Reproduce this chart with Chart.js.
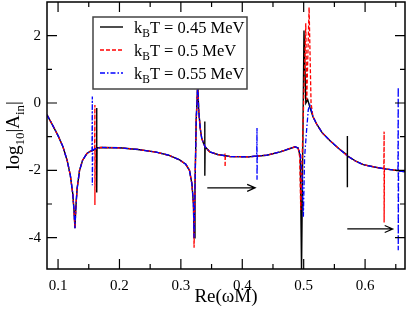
<!DOCTYPE html>
<html>
<head>
<meta charset="utf-8">
<script src="https://cdn.jsdelivr.net/npm/chart.js@4.4.0/dist/chart.umd.min.js"></script>
<style>
    html, body { margin: 0; padding: 0; background: #fff; }
</style>
</head>
<body>
<canvas id="chart" width="409" height="313"></canvas>
<script>
// Kurven [Re(wM), log10|A_in|] fuer die drei Temperaturen
const black = [
    [0.082, -0.35], [0.09, -0.62], [0.1, -0.97], [0.108, -1.3], [0.115, -1.72], [0.12, -2.15],
    [0.124, -2.7], [0.126, -3.2], [0.1275, -3.72], [0.129, -3.1], [0.131, -2.55], [0.135, -2.0],
    [0.14, -1.7], [0.147, -1.5], [0.152, -1.44], [0.158, -1.4], [0.1625, -1.35], [0.163, -0.15],
    [0.163, -2.66], [0.1635, -1.33], [0.17, -1.32], [0.2, -1.33], [0.23, -1.38], [0.26, -1.46],
    [0.28, -1.55], [0.298, -1.69], [0.308, -1.82], [0.314, -2.0], [0.318, -2.4], [0.3205, -3.0],
    [0.3215, -4.0], [0.323, -2.5], [0.325, -0.5], [0.3275, 0.6], [0.329, -0.2], [0.3315, -0.75],
    [0.334, -1.05], [0.337, -1.2], [0.339, -1.28], [0.339, -0.55], [0.339, -2.16], [0.3395, -1.3],
    [0.347, -1.45], [0.36, -1.53], [0.38, -1.59], [0.41, -1.6], [0.44, -1.55], [0.462, -1.45],
    [0.478, -1.35], [0.486, -1.3], [0.491, -1.34], [0.4945, -1.6], [0.4965, -5.0], [0.5005, 2.15],
    [0.5035, 0.0], [0.5065, 0.1], [0.5105, -0.15], [0.515, -0.4], [0.521, -0.62], [0.53, -0.88],
    [0.543, -1.12], [0.557, -1.35], [0.571, -1.55], [0.571, -0.98], [0.571, -2.5], [0.5715, -1.57],
    [0.585, -1.73], [0.597, -1.83], [0.615, -1.9], [0.63, -1.95], [0.65, -2.0], [0.665, -2.04]
];

const red = [
    [0.082, -0.35], [0.09, -0.62], [0.1, -0.97], [0.108, -1.3], [0.115, -1.72], [0.12, -2.15],
    [0.124, -2.7], [0.126, -3.2], [0.1275, -3.72], [0.129, -3.1], [0.131, -2.55], [0.135, -2.0],
    [0.14, -1.7], [0.147, -1.5], [0.152, -1.44], [0.1595, -1.39], [0.16, -0.06], [0.16, -3.03],
    [0.1605, -1.37], [0.165, -1.33], [0.17, -1.32], [0.2, -1.33], [0.23, -1.38], [0.26, -1.46],
    [0.28, -1.55], [0.298, -1.69], [0.308, -1.82], [0.314, -2.0], [0.318, -2.4], [0.3205, -3.0],
    [0.3215, -4.3], [0.323, -2.5], [0.325, -0.5], [0.3275, 0.6], [0.329, -0.2], [0.3315, -0.75],
    [0.334, -1.05], [0.337, -1.2], [0.3395, -1.3], [0.347, -1.45], [0.36, -1.53], [0.3715, -1.56],
    [0.372, -1.5], [0.372, -1.9], [0.3725, -1.57], [0.38, -1.59], [0.41, -1.6], [0.44, -1.55],
    [0.462, -1.45], [0.478, -1.35], [0.486, -1.3], [0.491, -1.34], [0.4935, -1.6], [0.4952, -3.18],
    [0.5034, 2.37], [0.505, 0.1], [0.5088, 2.84], [0.512, 0.0], [0.515, -0.4], [0.521, -0.62],
    [0.53, -0.88], [0.543, -1.12], [0.557, -1.35], [0.571, -1.57], [0.585, -1.73], [0.597, -1.83],
    [0.615, -1.9], [0.6305, -1.95], [0.631, -0.85], [0.631, -3.55], [0.6315, -1.95], [0.65, -2.0],
    [0.665, -2.04]
];

const blue = [
    [0.082, -0.35], [0.09, -0.62], [0.1, -0.97], [0.108, -1.3], [0.115, -1.72], [0.12, -2.15],
    [0.124, -2.7], [0.126, -3.2], [0.1275, -3.72], [0.129, -3.1], [0.131, -2.55], [0.135, -2.0],
    [0.14, -1.7], [0.147, -1.5], [0.152, -1.44], [0.1553, -1.41], [0.1558, 0.19], [0.1558, -2.44],
    [0.1565, -1.39], [0.163, -1.34], [0.17, -1.32], [0.2, -1.33], [0.23, -1.38], [0.26, -1.46],
    [0.28, -1.55], [0.298, -1.69], [0.308, -1.82], [0.314, -2.0], [0.318, -2.4], [0.3205, -3.0],
    [0.3215, -4.0], [0.323, -2.5], [0.325, -0.5], [0.3275, 0.6], [0.329, -0.2], [0.3315, -0.75],
    [0.334, -1.05], [0.337, -1.2], [0.3395, -1.3], [0.347, -1.45], [0.36, -1.53], [0.38, -1.59],
    [0.41, -1.6], [0.4235, -1.57], [0.424, -0.74], [0.424, -2.28], [0.4245, -1.57], [0.44, -1.55],
    [0.462, -1.45], [0.478, -1.35], [0.486, -1.3], [0.491, -1.34], [0.4945, -1.5], [0.4975, -2.2],
    [0.4995, -3.38], [0.5015, -1.6], [0.505, -0.75], [0.5075, -0.2], [0.51, -0.06], [0.513, -0.25],
    [0.515, -0.4], [0.521, -0.62], [0.53, -0.88], [0.543, -1.12], [0.557, -1.35], [0.571, -1.57],
    [0.585, -1.73], [0.597, -1.83], [0.615, -1.9], [0.63, -1.95], [0.65, -2.0], [0.6535, -2.01],
    [0.654, 0.47], [0.654, -4.37], [0.6545, -2.02], [0.665, -2.04]
];

const legendLabels = ['0.45', '0.5', '0.55'];

// Achsen
const xMajorTicks = [0.1, 0.2, 0.3, 0.4, 0.5, 0.6];
const xMinorTicks = [0.15, 0.25, 0.35, 0.45, 0.55, 0.65];
const yMajorTicks = [-4, -2, 0, 2];
const yMinorTicks = [-3, -1, 1];

// Pfeile: [x von, x bis, y]
const arrows = [
    [0.343, 0.421, -2.52],
    [0.571, 0.645, -3.74]
];

const serif = '"Liberation Serif", "DejaVu Serif", serif';

function toPoints(pairs) {
    return pairs.map(p => ({ x: p[0], y: p[1] }));
}

// Text mit tiefgestellten Teilen zeichnen
function drawParts(ctx, parts, x, y) {
    let cx = x;
    parts.forEach(p => {
        ctx.font = p.size + 'px ' + serif;
        ctx.fillText(p.text, cx, y + (p.dy || 0));
        cx += ctx.measureText(p.text).width;
    });
    return cx;
}

function partsWidth(ctx, parts) {
    let w = 0;
    parts.forEach(p => {
        ctx.font = p.size + 'px ' + serif;
        w += ctx.measureText(p.text).width;
    });
    return w;
}

const decorations = {
    id: 'decorations',
    afterDraw(chart) {
        const ctx = chart.ctx;
        const a = chart.chartArea;
        const xs = chart.scales.x;
        const ys = chart.scales.y;
        ctx.save();

        // Ticks nach innen
        ctx.strokeStyle = '#000';
        ctx.lineWidth = 1.2;
        ctx.beginPath();
        const xTick = (v, len) => {
            const px = xs.getPixelForValue(v);
            ctx.moveTo(px, a.bottom); ctx.lineTo(px, a.bottom - len);
            ctx.moveTo(px, a.top); ctx.lineTo(px, a.top + len);
        };
        const yTick = (v, len) => {
            const py = ys.getPixelForValue(v);
            ctx.moveTo(a.left, py); ctx.lineTo(a.left + len, py);
            ctx.moveTo(a.right, py); ctx.lineTo(a.right - len, py);
        };
        xMajorTicks.forEach(v => xTick(v, 10));
        xMinorTicks.forEach(v => xTick(v, 5));
        yMajorTicks.forEach(v => yTick(v, 10));
        yMinorTicks.forEach(v => yTick(v, 5));
        ctx.stroke();

        // Rahmen
        ctx.lineWidth = 1.5;
        ctx.strokeRect(a.left, a.top, a.right - a.left, a.bottom - a.top);

        // Pfeile
        ctx.lineWidth = 1.2;
        arrows.forEach(ar => {
            const x1 = xs.getPixelForValue(ar[0]);
            const x2 = xs.getPixelForValue(ar[1]);
            const py = ys.getPixelForValue(ar[2]);
            ctx.beginPath();
            ctx.moveTo(x1, py); ctx.lineTo(x2, py);
            ctx.moveTo(x2 - 8, py - 3.5); ctx.lineTo(x2, py); ctx.lineTo(x2 - 8, py + 3.5);
            ctx.stroke();
        });

        // Legende
        const lx = 93, ly = 17, lw = 154, lh = 72;
        ctx.fillStyle = '#fff';
        ctx.fillRect(lx, ly, lw, lh);
        ctx.strokeStyle = '#444';
        ctx.lineWidth = 1.5;
        ctx.strokeRect(lx, ly, lw, lh);
        const ds = chart.data.datasets;
        legendLabels.forEach((lab, i) => {
            const ry = 27 + i * 23;
            ctx.strokeStyle = ds[i].borderColor;
            ctx.lineWidth = ds[i].borderWidth;
            ctx.setLineDash(ds[i].borderDash || []);
            ctx.beginPath();
            ctx.moveTo(100, ry); ctx.lineTo(123, ry);
            ctx.stroke();
            ctx.setLineDash([]);
            ctx.fillStyle = '#000';
            ctx.textBaseline = 'alphabetic';
            ctx.textAlign = 'left';
            drawParts(ctx, [
                { text: 'k', size: 16.5 },
                { text: 'B', size: 11.5, dy: 4 },
                { text: 'T = ' + lab + ' MeV', size: 16.5 }
            ], 134, ry + 6);
        });

        // Achsentitel
        ctx.fillStyle = '#000';
        ctx.textAlign = 'left';
        ctx.textBaseline = 'alphabetic';
        const xt = [{ text: 'Re(\u03c9M)', size: 19 }];
        const cxp = (a.left + a.right) / 2;
        drawParts(ctx, xt, cxp - partsWidth(ctx, xt) / 2, 302);

        const yt = [
            { text: 'log', size: 19 },
            { text: '10', size: 13, dy: 5 },
            { text: '|A', size: 19 },
            { text: 'in', size: 13, dy: 5 },
            { text: '|', size: 19 }
        ];
        const cyp = (a.top + a.bottom) / 2;
        ctx.translate(19, cyp);
        ctx.rotate(-Math.PI / 2);
        drawParts(ctx, yt, -partsWidth(ctx, yt) / 2, 0);

        ctx.restore();
    }
};

const ctx = document.getElementById('chart').getContext('2d');

const chart = new Chart(ctx, {
    type: 'scatter',
    data: {
        datasets: [{
            label: 'kBT = 0.45 MeV',
            data: toPoints(black),
            borderColor: '#000000',
            borderWidth: 1.4,
            order: 3
        }, {
            label: 'kBT = 0.5 MeV',
            data: toPoints(red),
            borderColor: '#ff0000',
            borderWidth: 1.3,
            borderDash: [4, 2],
            order: 2
        }, {
            label: 'kBT = 0.55 MeV',
            data: toPoints(blue),
            borderColor: '#0000ff',
            borderWidth: 1.3,
            borderDash: [5, 2, 1.5, 2],
            order: 1
        }]
    },
    options: {
        responsive: false,
        animation: false,
        devicePixelRatio: 1,
        showLine: true,
        elements: {
            point: { radius: 0, hoverRadius: 0 },
            line: { tension: 0, fill: false }
        },
        layout: {
            padding: { left: 0, right: 4, top: 2, bottom: 0 }
        },
        plugins: {
            legend: { display: false },
            tooltip: { enabled: false }
        },
        scales: {
            x: {
                type: 'linear',
                min: 0.082,
                max: 0.665,
                grid: { display: false, drawTicks: false },
                border: { display: false },
                afterBuildTicks: function (scale) {
                    scale.ticks = xMajorTicks.map(v => ({ value: v }));
                },
                afterFit: function (scale) {
                    scale.height = 44;
                    scale.paddingLeft = 0;
                    scale.paddingRight = 0;
                },
                ticks: {
                    padding: 8,
                    maxRotation: 0,
                    color: '#000',
                    font: { family: serif, size: 15 },
                    callback: function (value) {
                        return value.toFixed(1);
                    }
                }
            },
            y: {
                type: 'linear',
                min: -4.93,
                max: 3,
                grid: { display: false, drawTicks: false },
                border: { display: false },
                afterBuildTicks: function (scale) {
                    scale.ticks = yMajorTicks.map(v => ({ value: v }));
                },
                afterFit: function (scale) {
                    scale.width = 47;
                    scale.paddingTop = 0;
                    scale.paddingBottom = 0;
                },
                ticks: {
                    padding: 6,
                    color: '#000',
                    font: { family: serif, size: 15 },
                    callback: function (value) {
                        return String(value);
                    }
                }
            }
        }
    },
    plugins: [decorations]
});
</script>
</body>
</html>
